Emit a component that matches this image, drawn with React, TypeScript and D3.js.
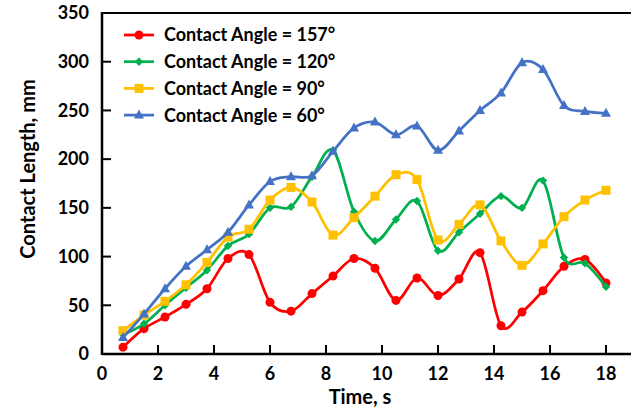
import React from "react";
import * as d3 from "d3";

const times = [0.75, 1.5, 2.25, 3, 3.75, 4.5, 5.25, 6, 6.75, 7.5, 8.25, 9, 9.75, 10.5, 11.25, 12, 12.75, 13.5, 14.25, 15, 15.75, 16.5, 17.25, 18];
const angle157 = [7, 26, 38, 51, 67, 98, 102, 53, 44, 62, 80, 98, 88, 55, 78, 60, 77, 104, 29, 43, 65, 90, 97, 73];
const angle120 = [20, 31, 50, 68, 86, 111, 123, 150, 151, 182, 209, 146, 116, 138, 157, 106, 125, 144, 162, 150, 178, 99, 93, 69];
const angle90 = [24, 40, 54, 71, 94, 120, 128, 158, 171, 156, 122, 140, 162, 184, 179, 117, 133, 153, 116, 91, 113, 141, 158, 168];
const angle60 = [17, 41, 67, 90, 107, 125, 153, 177, 182, 183, 208, 232, 238, 225, 234, 209, 229, 250, 268, 299, 292, 255, 249, 247];
const seriesNames = ["Contact Angle = 157°", "Contact Angle = 120°", "Contact Angle = 90°", "Contact Angle = 60°"];
const xTicks = [0, 2, 4, 6, 8, 10, 12, 14, 16, 18];
const yTicks = [0, 50, 100, 150, 200, 250, 300, 350];

const colors = ["#FF0000", "#00B050", "#FFC000", "#4472C4"];
const markers = ["circle", "diamond", "square", "triangle"];

const FONT = "Lato, 'Open Sans', sans-serif";

function Marker({ type, x, y, color }: { type: string; x: number; y: number; color: string }) {
  if (type === "circle") return <circle cx={x} cy={y} r={4.5} fill={color} />;
  if (type === "diamond")
    return <path d={`M${x},${y - 4.2}L${x + 4.2},${y}L${x},${y + 4.2}L${x - 4.2},${y}Z`} fill={color} />;
  if (type === "square") return <rect x={x - 4.5} y={y - 4.5} width={9} height={9} fill={color} />;
  return <path d={`M${x},${y - 5.5}L${x + 5},${y + 3.5}L${x - 5},${y + 3.5}Z`} fill={color} />;
}

export default function App() {
  const W = 631, H = 416;
  const left = 102, top = 13, bottom = 354;
  const x = d3.scaleLinear().domain([0, 20]).range([left, left + 560]);
  const y = d3.scaleLinear().domain([0, 350]).range([bottom, top]);
  const allSeries = [angle157, angle120, angle90, angle60];
  const line = d3
    .line<number>()
    .x((_, i) => x(times[i]))
    .y((d) => y(d))
    .curve(d3.curveCatmullRom.alpha(0));

  return (
    <svg width={W} height={H} style={{ position: "absolute", left: 0, top: 0, background: "#fff" }} fontFamily={FONT}>
      <rect x={0} y={0} width={W} height={H} fill="#fff" />
      <line x1={left} x2={W} y1={top} y2={top} stroke="#000" strokeWidth={2} />
      <line x1={left} x2={W} y1={bottom} y2={bottom} stroke="#000" strokeWidth={2.5} />
      <line x1={left} x2={left} y1={top - 1} y2={bottom + 1} stroke="#000" strokeWidth={2.5} />
      {yTicks.map((t) => (
        <g key={"y" + t}>
          {t > 0 && <line x1={left} x2={left + 9} y1={y(t)} y2={y(t)} stroke="#000" strokeWidth={2} />}
          <text x={89} y={y(t)} dy="0.35em" textAnchor="end" fontSize={18} fontWeight="bold" fill="#000">
            {t}
          </text>
        </g>
      ))}
      {xTicks.map((t) => (
        <g key={"x" + t}>
          {t > 0 && <line x1={x(t)} x2={x(t)} y1={bottom} y2={bottom - 9} stroke="#000" strokeWidth={2} />}
          <text x={x(t)} y={380} textAnchor="middle" fontSize={18} fontWeight="bold" fill="#000">
            {t}
          </text>
        </g>
      ))}
      <text x={360} y={404} textAnchor="middle" fontSize={20} fontWeight="bold" fill="#000">
        Time, s
      </text>
      <text
        transform={`translate(35,169) rotate(-90)`}
        textAnchor="middle"
        fontSize={20}
        fontWeight="bold"
        fill="#000"
      >
        Contact Length, mm
      </text>
      {allSeries.map((s, si) => (
        <g key={"s" + si}>
          <path d={line(s) || ""} fill="none" stroke={colors[si]} strokeWidth={2.75} />
          {s.map((v, i) => (
            <Marker key={i} type={markers[si]} x={x(times[i])} y={y(v)} color={colors[si]} />
          ))}
        </g>
      ))}
      {seriesNames.map((n, i) => {
        const ly = 35 + i * 26.7;
        return (
          <g key={"l" + i}>
            <line x1={124} x2={154} y1={ly} y2={ly} stroke={colors[i]} strokeWidth={2.75} />
            <Marker type={markers[i]} x={139} y={ly} color={colors[i]} />
            <text x={164} y={ly} dy="0.36em" fontSize={18} fontWeight="bold" fill="#000">
              {n}
            </text>
          </g>
        );
      })}
    </svg>
  );
}
